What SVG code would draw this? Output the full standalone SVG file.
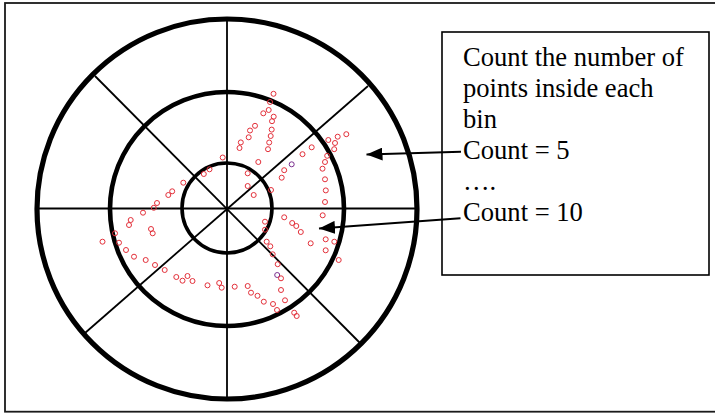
<svg xmlns="http://www.w3.org/2000/svg" width="715" height="414" viewBox="0 0 715 414">
<style>
.frame{fill:none;stroke:#1a1a1a;stroke-width:1.8}
.ring{fill:none;stroke:#000}
.spoke{stroke:#000;stroke-width:1.8;fill:none}
.pt{fill:none;stroke:#e3303a;stroke-width:1}
.pt2{fill:none;stroke:#7a2e8e;stroke-width:1}
.box{fill:#fff;stroke:#000;stroke-width:1.6}
.lbl{font-family:"Liberation Serif","Times New Roman",serif;font-size:26.6px;fill:#000}
.arrow{stroke:#000;stroke-width:2;fill:none;marker-end:url(#head)}
</style>
<defs>
<marker id="head" viewBox="0 0 16 13" refX="16" refY="6.5" markerWidth="16" markerHeight="13" markerUnits="userSpaceOnUse" orient="auto">
<path d="M0,0 L16,6.5 L0,13 Z" fill="#000"/>
</marker>
</defs>
<rect width="715" height="414" fill="#fff"/>
<rect class="frame" x="5" y="3" width="725" height="408.7"/>

<g id="bins">
<line class="spoke" x1="227" y1="19" x2="227" y2="400"/>
<line class="spoke" x1="37" y1="208.5" x2="417" y2="208.5"/>
<line class="spoke" x1="95" y1="76" x2="360" y2="343"/>
<line class="spoke" x1="368" y1="86" x2="85" y2="333"/>
<circle class="ring" cx="227" cy="209" r="190" stroke-width="5.2"/>
<circle class="ring" cx="227" cy="209" r="117" stroke-width="4.6"/>
<circle class="ring" cx="227" cy="208" r="45" stroke-width="3.6"/>
</g>

<g id="points">
<circle class="pt" cx="222.7" cy="157.5" r="2.5"/>
<circle class="pt" cx="209.5" cy="169.3" r="2.5"/>
<circle class="pt" cx="203.8" cy="174" r="2.5"/>
<circle class="pt" cx="183.3" cy="182.7" r="2.5"/>
<circle class="pt" cx="172.2" cy="191.3" r="2.5"/>
<circle class="pt" cx="168.3" cy="195" r="2.5"/>
<circle class="pt" cx="157" cy="203" r="2.5"/>
<circle class="pt" cx="153.8" cy="207.8" r="2.5"/>
<circle class="pt" cx="273.5" cy="93.8" r="2.5"/>
<circle class="pt" cx="270" cy="102" r="2.5"/>
<circle class="pt" cx="268.7" cy="110" r="2.5"/>
<circle class="pt" cx="263.3" cy="113.3" r="2.5"/>
<circle class="pt" cx="273.7" cy="116.7" r="2.5"/>
<circle class="pt" cx="272" cy="121.2" r="2.5"/>
<circle class="pt" cx="255" cy="125.8" r="2.5"/>
<circle class="pt" cx="250" cy="130.5" r="2.5"/>
<circle class="pt" cx="271.7" cy="129.6" r="2.5"/>
<circle class="pt" cx="270.7" cy="136" r="2.5"/>
<circle class="pt" cx="248.7" cy="137.3" r="2.5"/>
<circle class="pt" cx="269.2" cy="142.5" r="2.5"/>
<circle class="pt" cx="240.8" cy="142.4" r="2.5"/>
<circle class="pt" cx="239.5" cy="148" r="2.5"/>
<circle class="pt" cx="268" cy="149.2" r="2.5"/>
<circle class="pt" cx="258.3" cy="162" r="2.5"/>
<circle class="pt" cx="247.7" cy="173.3" r="2.5"/>
<circle class="pt" cx="247.7" cy="186" r="2.5"/>
<circle class="pt" cx="253.7" cy="195" r="2.5"/>
<circle class="pt" cx="271" cy="190" r="2.5"/>
<circle class="pt" cx="328.3" cy="140" r="2.5"/>
<circle class="pt" cx="337.7" cy="136.7" r="2.5"/>
<circle class="pt" cx="346.3" cy="134.2" r="2.5"/>
<circle class="pt" cx="335" cy="143" r="2.5"/>
<circle class="pt" cx="334.2" cy="149.2" r="2.5"/>
<circle class="pt" cx="311.7" cy="147.3" r="2.5"/>
<circle class="pt" cx="302.5" cy="154.2" r="2.5"/>
<circle class="pt2" cx="291.7" cy="164.3" r="2.5"/>
<circle class="pt" cx="284.2" cy="170.2" r="2.5"/>
<circle class="pt" cx="281.7" cy="177.7" r="2.5"/>
<circle class="pt" cx="327.2" cy="155.8" r="2.5"/>
<circle class="pt" cx="325" cy="162" r="2.5"/>
<circle class="pt" cx="322.5" cy="168.7" r="2.5"/>
<circle class="pt" cx="325" cy="179.3" r="2.5"/>
<circle class="pt" cx="325.8" cy="190.4" r="2.5"/>
<circle class="pt" cx="325" cy="202" r="2.5"/>
<circle class="pt" cx="143" cy="212.7" r="2.5"/>
<circle class="pt" cx="130.7" cy="220" r="2.5"/>
<circle class="pt" cx="129" cy="225" r="2.5"/>
<circle class="pt" cx="151" cy="229" r="2.5"/>
<circle class="pt" cx="152.7" cy="233.3" r="2.5"/>
<circle class="pt" cx="115" cy="233.3" r="2.5"/>
<circle class="pt" cx="102.5" cy="241.7" r="2.5"/>
<circle class="pt" cx="119" cy="242.7" r="2.5"/>
<circle class="pt" cx="126" cy="250" r="2.5"/>
<circle class="pt" cx="134" cy="256.7" r="2.5"/>
<circle class="pt" cx="145.7" cy="260" r="2.5"/>
<circle class="pt" cx="155" cy="265" r="2.5"/>
<circle class="pt" cx="164.7" cy="270" r="2.5"/>
<circle class="pt" cx="176.3" cy="277" r="2.5"/>
<circle class="pt" cx="182.5" cy="280.7" r="2.5"/>
<circle class="pt" cx="187.5" cy="276" r="2.5"/>
<circle class="pt" cx="192.5" cy="281" r="2.5"/>
<circle class="pt" cx="207.5" cy="285.3" r="2.5"/>
<circle class="pt" cx="219.2" cy="283" r="2.5"/>
<circle class="pt" cx="221.7" cy="287.7" r="2.5"/>
<circle class="pt" cx="234.7" cy="286.7" r="2.5"/>
<circle class="pt" cx="322.7" cy="215.3" r="2.5"/>
<circle class="pt" cx="284.2" cy="217.3" r="2.5"/>
<circle class="pt" cx="265" cy="221.7" r="2.5"/>
<circle class="pt" cx="292.2" cy="223" r="2.5"/>
<circle class="pt" cx="296.3" cy="226" r="2.5"/>
<circle class="pt" cx="300.8" cy="232" r="2.5"/>
<circle class="pt" cx="265" cy="229.7" r="2.5"/>
<circle class="pt" cx="266.7" cy="241.7" r="2.5"/>
<circle class="pt" cx="270.3" cy="246.3" r="2.5"/>
<circle class="pt" cx="310.7" cy="243.3" r="2.5"/>
<circle class="pt" cx="325.7" cy="239.3" r="2.5"/>
<circle class="pt" cx="334.3" cy="241.7" r="2.5"/>
<circle class="pt" cx="325.7" cy="250.3" r="2.5"/>
<circle class="pt" cx="338.7" cy="260" r="2.5"/>
<circle class="pt" cx="272.7" cy="254.3" r="2.5"/>
<circle class="pt" cx="277.7" cy="264.2" r="2.5"/>
<circle class="pt2" cx="277.2" cy="275" r="2.5"/>
<circle class="pt" cx="281" cy="278.3" r="2.5"/>
<circle class="pt" cx="281" cy="290" r="2.5"/>
<circle class="pt" cx="285" cy="300.3" r="2.5"/>
<circle class="pt" cx="247.7" cy="286" r="2.5"/>
<circle class="pt" cx="251" cy="292.7" r="2.5"/>
<circle class="pt" cx="257.5" cy="295.8" r="2.5"/>
<circle class="pt" cx="263.8" cy="301.7" r="2.5"/>
<circle class="pt" cx="273" cy="304" r="2.5"/>
<circle class="pt" cx="277" cy="310" r="2.5"/>
<circle class="pt" cx="294.2" cy="312.7" r="2.5"/>
<circle class="pt" cx="296.7" cy="316" r="2.5"/>
</g>

<g id="note">
<rect class="box" x="442" y="32" width="267" height="243"/>
<text class="lbl" x="463" y="66">Count the number of</text>
<text class="lbl" x="463" y="97">points inside each</text>
<text class="lbl" x="463" y="128">bin</text>
<text class="lbl" x="463" y="159">Count = 5</text>
<text class="lbl" x="463" y="190">….</text>
<text class="lbl" x="463" y="221">Count = 10</text>
</g>

<g id="connectors">
<path class="arrow" d="M461,151.7 L366.5,154.5"/>
<path class="arrow" d="M460.5,218.3 L319,228.5"/>
</g>
</svg>
